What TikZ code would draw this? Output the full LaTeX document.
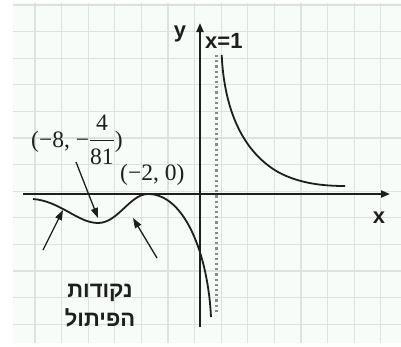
\documentclass[tikz,border=0pt]{standalone}
\usepackage{fontspec}
\usepackage{amsmath}
\setmainfont{Liberation Serif}
\newfontfamily\labsans{Liberation Sans}[BoldFont={Liberation Sans Bold}]
\newfontfamily\hebfont[Script=Hebrew,BoldFont={Liberation Sans Bold}]{Liberation Sans}
\TeXXeTstate=1
\usetikzlibrary{arrows.meta}
\definecolor{gridbg}{HTML}{F8FCF8}
\definecolor{gridln}{HTML}{DCE2DC}
\definecolor{ink}{HTML}{1E1E1E}
\definecolor{dotgray}{HTML}{8A8A8A}
\tikzset{
  axisline/.style={line width=2pt, draw=ink, -{Triangle[length=9pt,width=7pt]}},
  curveline/.style={line width=1.8pt, draw=ink},
  asym/.style={line width=3pt, draw=dotgray, dash pattern=on 2.2pt off 3pt},
  pointer/.style={line width=1.3pt, draw=ink, -{Triangle[length=10pt,width=7pt]}},
  axlabel/.style={font=\labsans\bfseries\fontsize{22}{24}\selectfont, text=ink, inner sep=0pt},
  serlabel/.style={font=\fontsize{23.5}{26}\selectfont, text=ink, inner sep=0pt},
  heblabel/.style={font=\hebfont\bfseries\fontsize{22}{29}\selectfont, text=ink, align=center, inner sep=0pt}
}
\begin{document}
\begin{tikzpicture}[x=1pt,y=-1pt]
\useasboundingbox (0,0) rectangle (401,346);
% grid background
\fill[white] (0,0) rectangle (401,346);
\fill[gridbg] (13,3) rectangle (401,343);
\foreach \i in {0,...,13} {
  \draw[gridln, line width=1.3pt] ({35+26.6*\i},3) -- ({35+26.6*\i},343);
}
\foreach \j in {0,...,12} {
  \draw[gridln, line width=1.3pt] (13,{5+26.6*\j}) -- (401,{5+26.6*\j});
}
% axes
\coordinate (xs) at (23,194);
\coordinate (xe) at (390,194);
\coordinate (ys) at (200,327);
\coordinate (ye) at (200,23);
\draw[axisline] (xs) -- (xe);
\draw[axisline] (ys) -- (ye);
\node[axlabel, anchor=base] (ylab) at (180,37) {y};
\node[axlabel, anchor=base] (xlab) at (379,223) {x};
\node[axlabel, anchor=base west] (asylab) at (205,48) {x=1};
% asymptote
\coordinate (a1) at (216,55);
\coordinate (a2) at (216,315);
\draw[asym] (a1) -- (a2);
% right branch
\draw[curveline] (221.7,55) .. controls (224,105) and (240,150) .. (278,172)
  .. controls (300,184) and (325,186) .. (345,186);
% left branch
\coordinate (minpt) at (98,223);
\coordinate (maxpt) at (148,194);
\draw[curveline] (33,199) .. controls (60,201) and (78,223) .. (minpt)
  .. controls (118,223) and (130,194) .. (maxpt)
  .. controls (185,194) and (208,255) .. (211,317);
% labels
\node[serlabel, anchor=base west] (lab8) at (31,147) {(−8, −$\dfrac{\text{4}}{\text{81}}$)};
\node[serlabel, anchor=base west] (lab2) at (120,180) {(−2, 0)};
\node[heblabel] (heb) at (100,306) {\beginR נקודות\endR\\\beginR הפיתול\endR};
% pointers
\coordinate (p1s) at (76,162);
\coordinate (p1e) at (98,218);
\coordinate (p2s) at (43,250);
\coordinate (p2e) at (63,210);
\coordinate (p3s) at (157,258);
\coordinate (p3e) at (133,218);
\draw[pointer] (p1s) -- (p1e);
\draw[pointer] (p2s) -- (p2e);
\draw[pointer] (p3s) -- (p3e);
\end{tikzpicture}
\end{document}
